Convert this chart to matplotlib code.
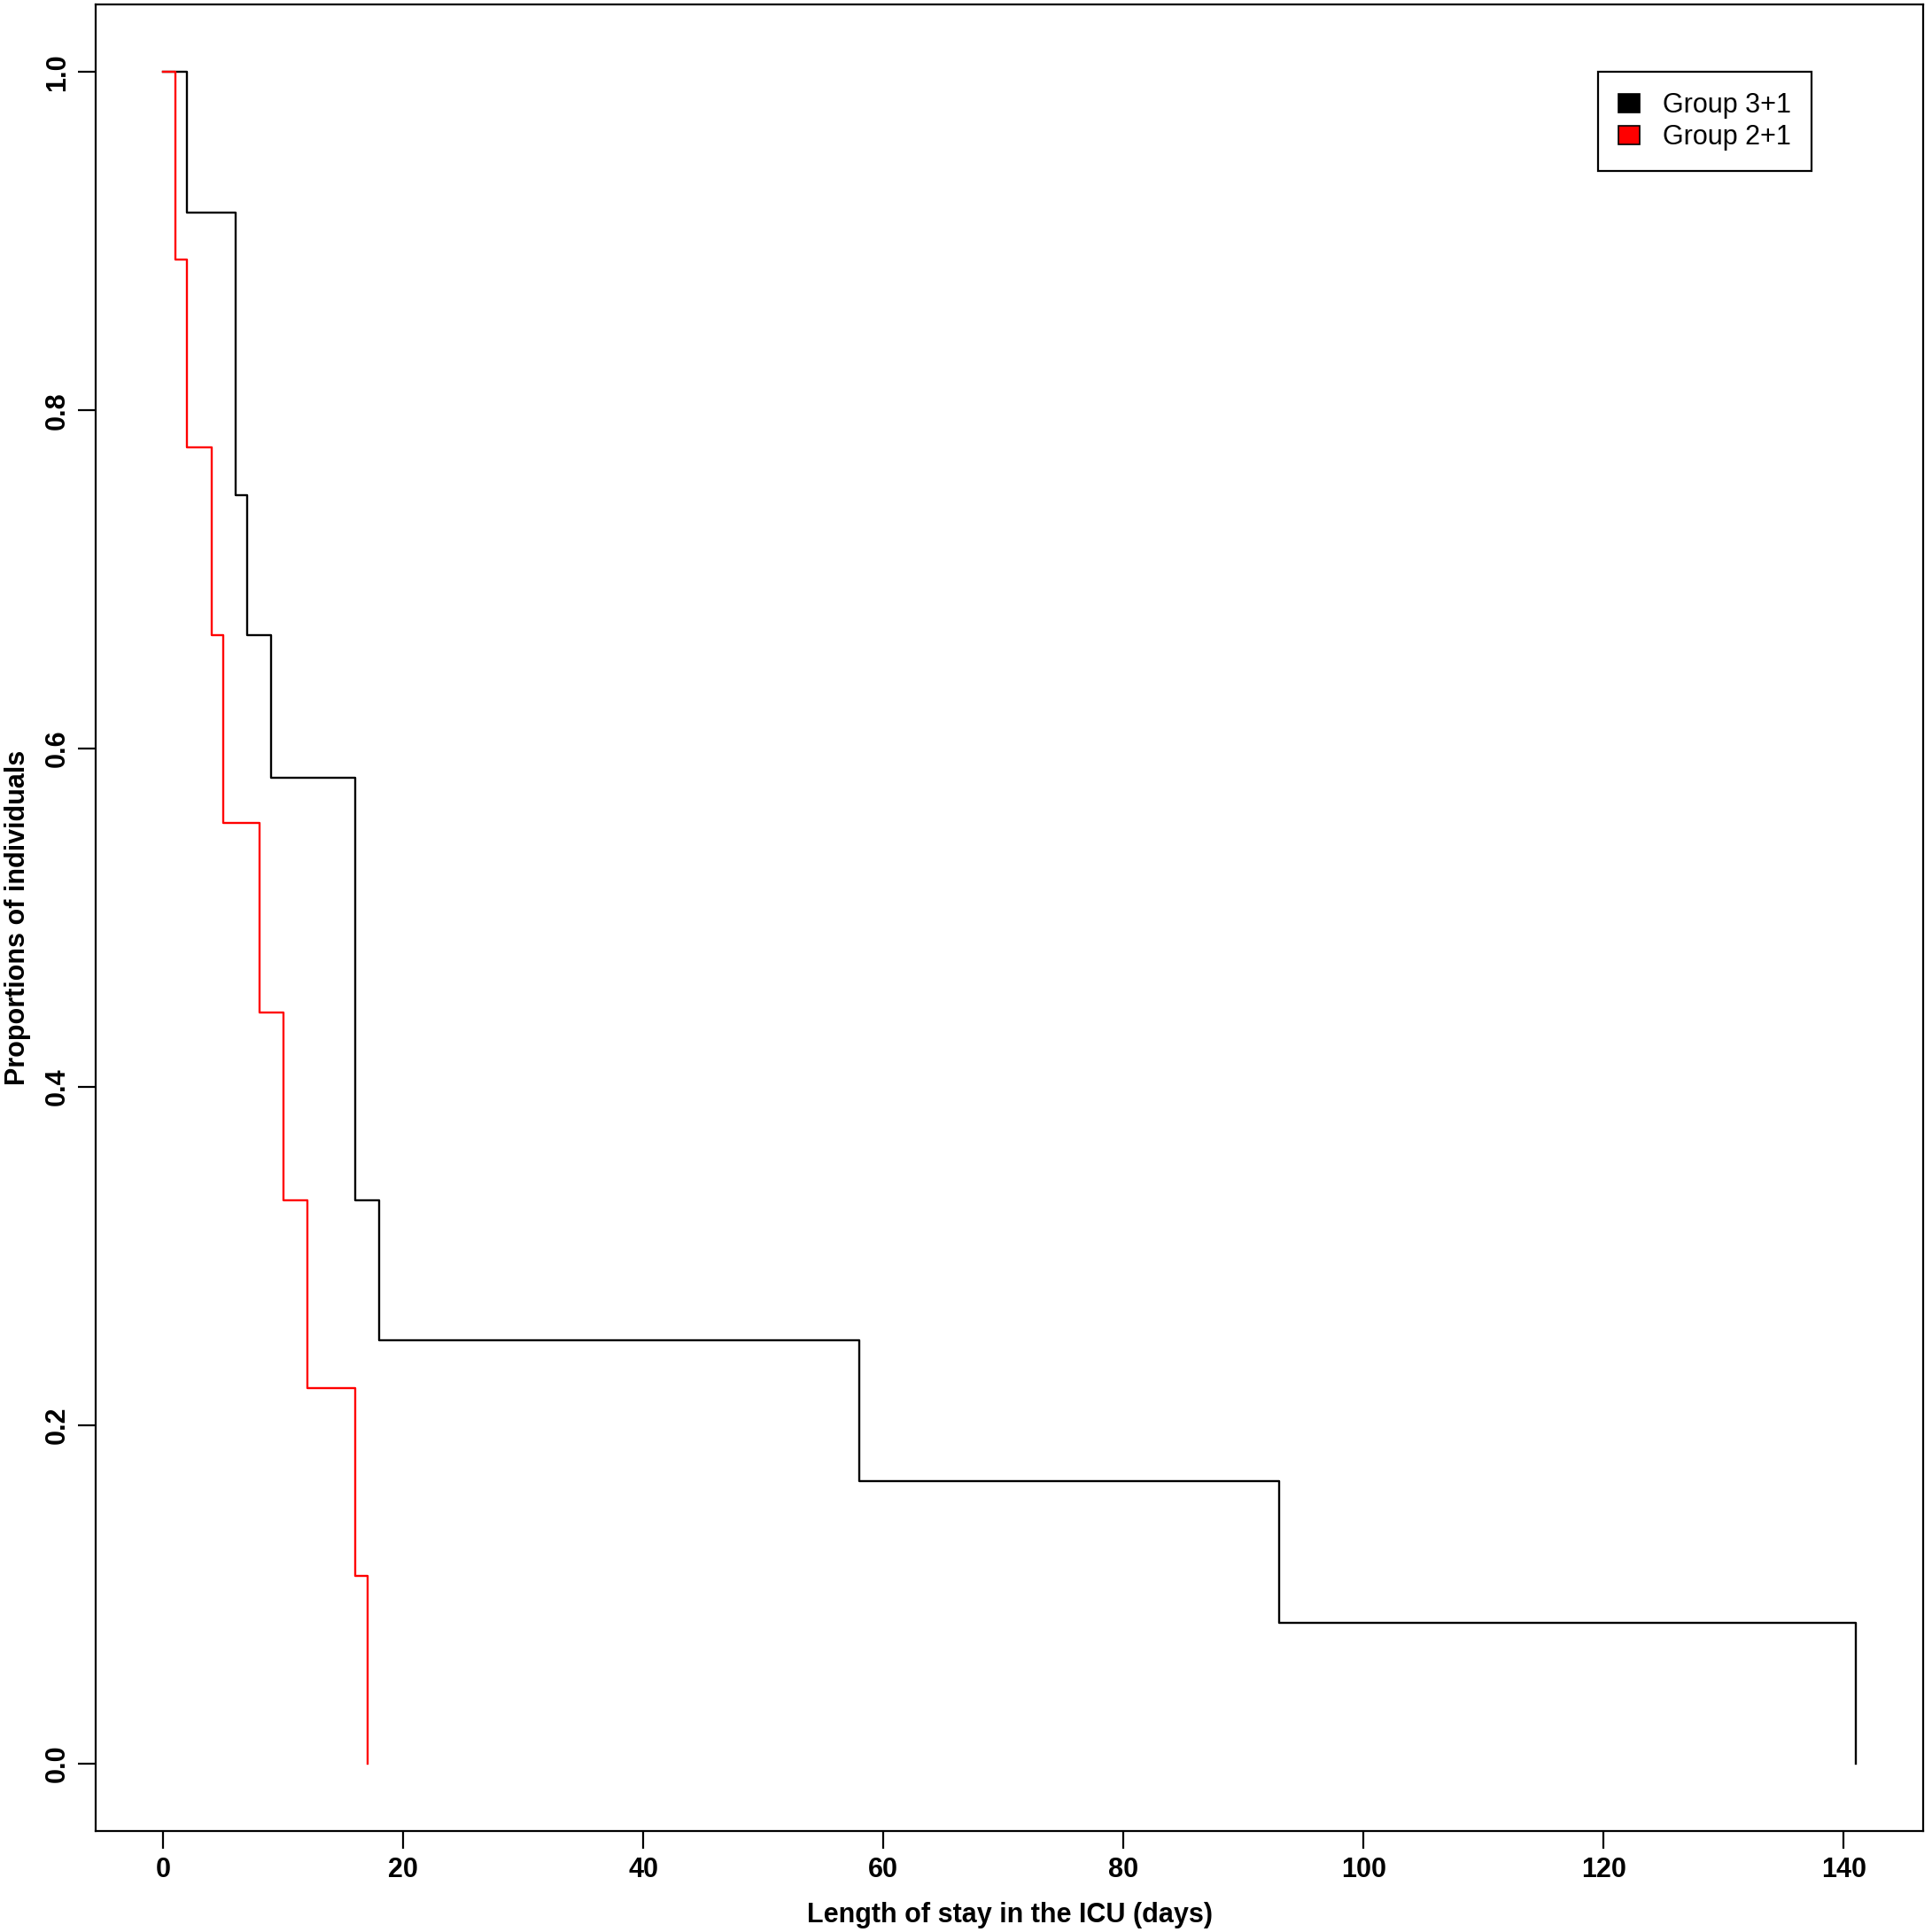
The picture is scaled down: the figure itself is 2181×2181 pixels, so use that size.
import matplotlib
matplotlib.use("Agg")
import matplotlib.pyplot as plt
from matplotlib.patches import Patch

plt.rcParams['font.family'] = ['Liberation Sans', 'DejaVu Sans']

# Kaplan-Meier style step curves
group31_days = [0, 2, 6, 7, 9, 16, 18, 58, 93, 141]
group31_prop = [1.0, 0.917, 0.75, 0.667, 0.583, 0.333, 0.25, 0.167, 0.083, 0.0]

group21_days = [0, 1, 2, 4, 5, 8, 10, 12, 16, 17]
group21_prop = [1.0, 0.889, 0.778, 0.667, 0.556, 0.444, 0.333, 0.222, 0.111, 0.0]

labels = ["Group 3+1", "Group 2+1"]
colors = ["black", "#ff0000"]
xticks = [0, 20, 40, 60, 80, 100, 120, 140]
yticks = [0.0, 0.2, 0.4, 0.6, 0.8, 1.0]

dpi = 200
fig = plt.figure(figsize=(2181 / dpi, 2181 / dpi), dpi=dpi)
ax = fig.add_axes([0.0495, 0.0523, 0.946, 0.9454])

ax.step(group31_days, group31_prop, where="post", color=colors[0], lw=0.85)
ax.step(group21_days, group21_prop, where="post", color=colors[1], lw=0.85)

# R default 4% padding
ax.set_xlim(-0.04 * 141, 141 * 1.04)
ax.set_ylim(-0.04, 1.04)

fs = 11
ax.set_xticks(xticks)
ax.set_xticklabels([str(t) for t in xticks], fontweight="bold", fontsize=fs)
ax.set_yticks(yticks)
ax.set_yticklabels(["%.1f" % t for t in yticks], fontweight="bold", fontsize=fs,
                   rotation=90, va="center")
ax.tick_params(direction="out", length=7.2, width=0.8)
ax.tick_params(axis="x", pad=3.2)
ax.tick_params(axis="y", pad=2.8)

for sp in ax.spines.values():
    sp.set_linewidth(0.8)

ax.set_xlabel("Length of stay in the ICU (days)", fontweight="bold", fontsize=fs, labelpad=7.5)
ax.set_ylabel("Proportions of individuals", fontweight="bold", fontsize=fs, labelpad=5.5)

handles = [Patch(facecolor=c, edgecolor="black", linewidth=0.6) for c in colors]
leg = ax.legend(handles, labels, loc="upper right", bbox_to_anchor=(0.939, 0.963),
                borderaxespad=0, fancybox=False, edgecolor="black", fontsize=11,
                handlelength=0.8, handleheight=0.7, handletextpad=0.85,
                borderpad=0.75, labelspacing=0.2)
leg.get_frame().set_linewidth(0.8)
leg.get_frame().set_alpha(None)

fig.savefig("out.png", dpi=dpi)
